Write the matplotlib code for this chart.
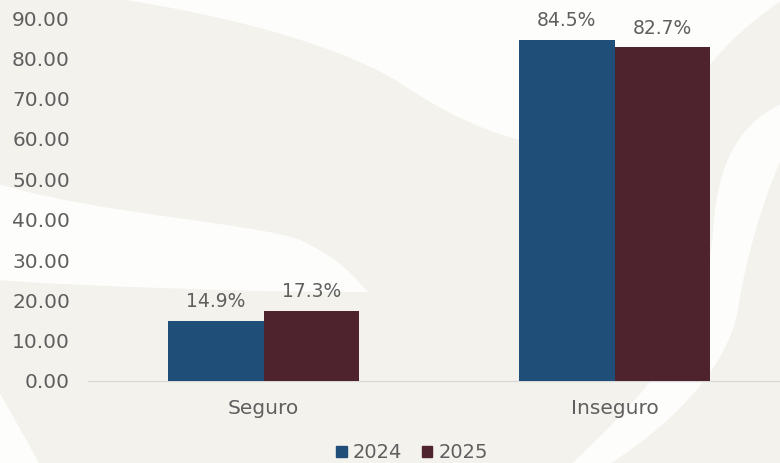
"""Bar chart: Seguro vs Inseguro, 2024 vs 2025."""

import matplotlib

matplotlib.use("Agg")
import matplotlib.pyplot as plt
from matplotlib.patches import Patch, PathPatch
from matplotlib.path import Path

categories = ["Seguro", "Inseguro"]
years = ["2024", "2025"]
values_2024 = [14.9, 84.5]
values_2025 = [17.3, 82.7]
y_ticks = [0, 10, 20, 30, 40, 50, 60, 70, 80, 90]

BLUE = "#1f4e79"
MAROON = "#4e232d"
TEXT = "#5f5f5f"
BG = "#f4f2ec"

W, H = 780, 463

plt.rcParams["font.family"] = ["DejaVu Sans"]

fig = plt.figure(figsize=(W / 100, H / 100), dpi=100)
fig.patch.set_facecolor(BG)


def _px(x, y):
    # pixel coords (origin top-left) -> figure fraction
    return (x / W, 1 - y / H)


def _swoosh(points, codes):
    path = Path([_px(*p) for p in points], codes)
    fig.patches.append(
        PathPatch(path, transform=fig.transFigure, facecolor="#fdfdfc",
                  edgecolor="none", zorder=-5)
    )


M, C, L, Z = Path.MOVETO, Path.CURVE4, Path.LINETO, Path.CLOSEPOLY

# decorative white swooshes on the beige background
_swoosh(
    [(90, -5), (220, 12), (340, 45), (400, 83),
     (440, 110), (480, 130), (520, 140),
     (580, 155), (640, 140), (683, 100),
     (700, 80), (720, 40), (790, -5),
     (790, -5)],
    [M, C, C, C, C, C, C, C, C, C, C, C, C, Z],
)
_swoosh(
    [(565, 470), (640, 400), (708, 330), (713, 230),
     (718, 160), (740, 120), (790, 100),
     (790, 140),
     (765, 190), (745, 260), (738, 310),
     (725, 380), (650, 440), (600, 470),
     (600, 470)],
    [M, C, C, C, C, C, C, L, C, C, C, C, C, C, Z],
)
_swoosh(
    [(-5, 183), (100, 215), (250, 222), (300, 240),
     (340, 258), (355, 278), (368, 292),
     (250, 292), (100, 287), (-5, 280),
     (-5, 280)],
    [M, C, C, C, C, C, C, C, C, C, Z],
)
_swoosh(
    [(-5, 385), (15, 420), (30, 445), (42, 470),
     (-5, 470), (-5, 470)],
    [M, C, C, C, L, Z],
)

ax = fig.add_axes([88 / W, 82 / H, 702 / W, 363 / H])
ax.set_facecolor("none")
ax.set_zorder(2)

x = list(range(len(categories)))
width = 0.2735
bars_a = ax.bar([i - width / 2 for i in x], values_2024, width,
                color=BLUE, label=years[0], zorder=3)
bars_b = ax.bar([i + width / 2 for i in x], values_2025, width,
                color=MAROON, label=years[1], zorder=3)

for bars, vals in ((bars_a, values_2024), (bars_b, values_2025)):
    for bar, v in zip(bars, vals):
        ax.annotate(f"{v:.1f}%",
                    (bar.get_x() + bar.get_width() / 2, v),
                    xytext=(0, 10), textcoords="offset points",
                    ha="center", va="baseline", fontsize=13.5, color=TEXT)

ax.set_xlim(-0.5, 1.5)
ax.set_ylim(0, 90)
ax.set_yticks(y_ticks)
ax.set_yticklabels([f"{t:.2f}" for t in y_ticks])
ax.set_xticks(x)
ax.set_xticklabels(categories)
ax.tick_params(axis="y", length=0, pad=13, labelsize=14.5, labelcolor=TEXT)
ax.tick_params(axis="x", length=0, pad=13, labelsize=14.5, labelcolor=TEXT)

for side in ("top", "right", "left"):
    ax.spines[side].set_visible(False)
ax.spines["bottom"].set_color("#d9d9d9")
ax.spines["bottom"].set_linewidth(1.0)

handles = [Patch(color=BLUE), Patch(color=MAROON)]
leg = fig.legend(handles, years, loc="center",
                 bbox_to_anchor=(412 / W, 1 - 453 / H),
                 ncol=2, frameon=False, fontsize=14, labelcolor=TEXT,
                 handlelength=0.55, handleheight=0.55, handletextpad=0.3,
                 columnspacing=1.0)
leg.set_zorder(3)

fig.savefig("out.png", dpi=100, facecolor=BG)
